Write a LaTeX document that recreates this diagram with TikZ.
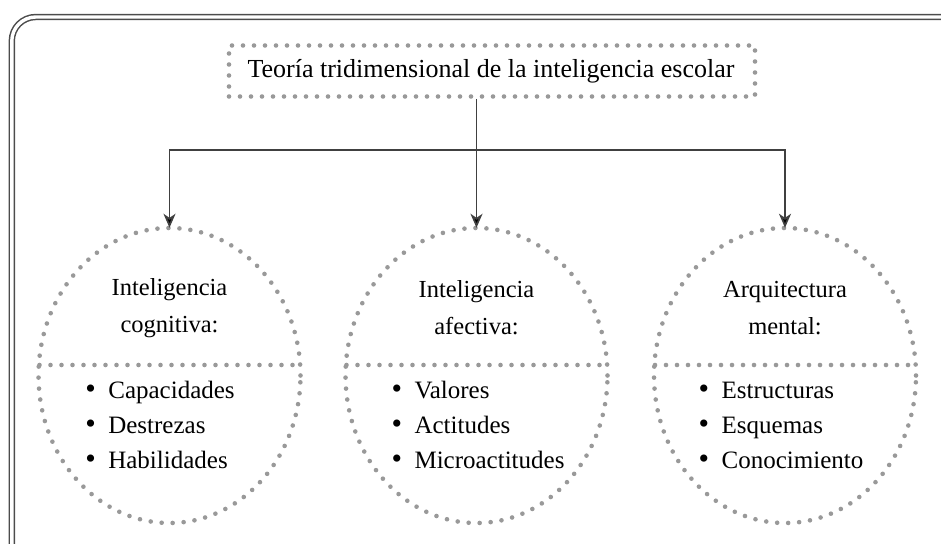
\documentclass[tikz,border=0pt]{standalone}
\usepackage{fontspec}
\setmainfont{Liberation Serif}
\usetikzlibrary{arrows.meta,shapes.geometric,calc}
\newcommand{\bul}{{\fontsize{30}{35}\selectfont\textbullet}\ \ }
\tikzset{
  dotline/.style={draw=gray!80, line width=4.6pt, line cap=round, dash pattern=on 0pt off 11pt},
  frame/.style={draw=black!70, double=white, double distance=3.4pt, line width=1.5pt, rounded corners=24pt},
  conn/.style={draw=black!75, line width=1.7pt},
  arr/.style={conn, -{Stealth[length=14pt,width=12pt,inset=4pt,fill=black]}},
  txt/.style={font=\fontsize{26}{35}\selectfont, align=center, inner sep=0pt},
  head/.style={font=\fontsize{24.5}{37}\selectfont, align=center, inner sep=0pt},
  lst/.style={font=\fontsize{25}{35}\selectfont, align=left, inner sep=0pt},
  circ/.style={ellipse, minimum width=262pt, minimum height=295pt, inner sep=0pt},
}
\begin{document}
\begin{tikzpicture}[x=1pt,y=-1pt]
\useasboundingbox (0,0) rectangle (941,543);
\path[frame] (11.8,17) rectangle (980,590);
% top box
\node[dotline, minimum width=526pt, minimum height=51pt, inner sep=0pt] (top) at (492,71) {};
\node[txt] (toptext) at (491,71) {Teoría tridimensional de la inteligencia escolar};
% ellipses (drawn with dots)
\node[circ] (c1) at (169.5,375.5) {};
\node[circ] (c2) at (476.5,375.5) {};
\node[circ] (c3) at (785,375.5) {};
\foreach \c in {c1,c2,c3}{
  \draw[dotline] (\c.center) ellipse (131pt and 147.5pt);
  \draw[dotline] ($(\c.center)+(-130,-10.5)$) -- ($(\c.center)+(130,-10.5)$);
}
\coordinate (hl) at (0,150);
% headings
\node[head] (h1) at (169.5,308) {Inteligencia\\cognitiva:};
\node[head] (h2) at (476.5,308) {Inteligencia\\afectiva:};
\node[head] (h3) at (785,308) {Arquitectura\\mental:};
% lists
\node[lst] (l1) at (160,425) {\bul Capacidades\\\bul Destrezas\\\bul Habilidades};
\node[lst] (l2) at (478,425) {\bul Valores\\\bul Actitudes\\\bul Microactitudes};
\node[lst] (l3) at (781,425) {\bul Estructuras\\\bul Esquemas\\\bul Conocimiento};
% connectors
\draw[arr] (c2.north |- top.south) -- (c2.north);
\draw[arr] (c2.north |- hl) -| (c1.north);
\draw[arr] (c2.north |- hl) -| (c3.north);
\end{tikzpicture}
\end{document}
